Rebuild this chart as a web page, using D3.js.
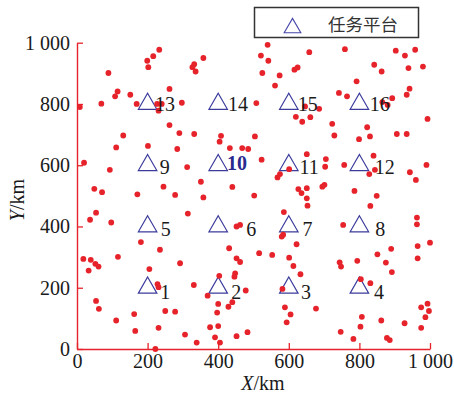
<!DOCTYPE html>
<html>
<head>
<meta charset="utf-8">
<script src="https://cdn.jsdelivr.net/npm/d3@7"></script>
<style>
  html, body { margin: 0; padding: 0; background: #fff; }
  svg { display: block; }
</style>
</head>
<body>
<div id="chart"></div>
<script>
// Task points (km)
const taskX = [
  8, 233, 216, 199, 202, 89, 115, 108, 151, 69, 169, 262, 227, 240, 231, 297, 262, 290, 131,
  332, 327, 336, 358, 540, 521, 542, 525, 574, 561, 616, 625, 658, 508, 646, 620, 638, 661, 332, 408, 504,
  759, 903, 929, 958, 842, 863, 939, 980, 792, 742, 765, 942, 934, 893, 865, 880, 686, 723, 822, 993, 729, 799, 830, 906, 934,
  111, 201, 284, 20, 93, 312, 49, 71, 171, 245, 278, 54, 37, 97, 314, 181,
  404, 433, 468, 485, 523, 651, 601, 575, 568, 351, 440, 358, 502, 627, 636, 651, 651, 653, 452, 462, 586, 580, 584, 622,
  705, 703, 757, 840, 844, 828, 943, 960, 990, 701, 695, 786, 849, 831, 754, 963, 963, 965, 1000,
  235, 18, 39, 52, 61, 33, 116, 205, 292, 228, 231, 331, 54, 62, 162, 250, 278, 111, 231, 165, 306, 222,
  431, 452, 462, 516, 553, 601, 613, 633, 448, 446, 403, 370, 478, 582, 400, 440, 429, 397, 589, 605, 594, 377, 400, 483, 452, 391, 405, 339,
  851, 890, 965, 744, 748, 794, 875, 892, 804, 831, 677, 975, 993, 997, 987, 807, 862, 928, 975, 803, 747, 783, 878, 886
];
const taskY = [
  790, 977, 956, 941, 920, 901, 841, 825, 830, 801, 800, 849, 800, 800, 778, 804, 731, 705, 697,
  930, 920, 906, 950, 993, 958, 941, 901, 893, 860, 912, 919, 969, 803, 792, 758, 742, 757, 702, 696, 694,
  979, 974, 958, 977, 928, 906, 917, 922, 874, 836, 825, 850, 830, 819, 806, 797, 784, 735, 724, 751, 697, 685, 694, 702, 702,
  658, 663, 653, 608, 585, 594, 523, 512, 505, 530, 503, 445, 422, 413, 442, 349,
  677, 656, 656, 653, 618, 636, 587, 571, 560, 546, 529, 495, 501, 522, 509, 525, 492, 468, 400, 405, 447, 367, 373, 342,
  620, 595, 601, 631, 585, 571, 577, 552, 601, 536, 530, 516, 500, 467, 405, 429, 407, 336, 347,
  324, 294, 291, 278, 269, 256, 301, 261, 280, 212, 202, 209, 157, 131, 114, 124, 122, 93, 69, 59, 47, 0,
  329, 296, 284, 313, 307, 298, 271, 244, 247, 236, 239, 174, 191, 196, 147, 153, 138, 119, 136, 113, 87, 71, 75, 55, 42, 38, 21, 21,
  309, 327, 296, 283, 269, 288, 282, 251, 228, 215, 132, 136, 148, 124, 104, 105, 93, 84, 69, 73, 56, 33, 36, 29
];

// Task platforms (km)
const platformX = [200, 400, 600, 800, 200, 400, 600, 800, 200, 400, 600, 800, 200, 400, 600, 800];
const platformY = [200, 200, 200, 200, 400, 400, 400, 400, 600, 600, 600, 600, 800, 800, 800, 800];
const platformIds = [1, 2, 3, 4, 5, 6, 7, 8, 9, 10, 11, 12, 13, 14, 15, 16];
const highlightedId = 10;

const xTicks = [0, 200, 400, 600, 800, 1000];
const yTicks = [0, 200, 400, 600, 800, 1000];
const tickText = v => v >= 1000 ? "1 000" : String(v);
const legendText = "任务平台";

// ---- layout ----
const W = 454, H = 395;
const red = "#e6232b";
const blue = "#3b3b9c";
const serif = "'Liberation Serif', 'Times New Roman', serif";

const x = d3.scaleLinear().domain([0, 1000]).range([77, 430]);
const y = d3.scaleLinear().domain([0, 1000]).range([349, 42.7]);

// horizontal / vertical placement of each platform number relative to its marker
const labelDx = [12.7, 13, 12.2, 14.5, 13.2, 28, 13.8, 15.8, 12.2, 8.8, 10.7, 15.3, 7.3, 9.8, 9, 10.3];
const labelDy = [11.5, 11.5, 11.5, 11.5, 10, 10, 10, 10, 9, 4.6, 9, 9, 7.5, 7.5, 7.5, 7.5];

const svg = d3.select("#chart").append("svg")
  .attr("width", W).attr("height", H)
  .attr("viewBox", `0 0 ${W} ${H}`);

// axes
const xAxis = d3.axisBottom(x).tickValues(xTicks).tickFormat(tickText)
  .tickSizeInner(-6).tickSizeOuter(0).tickPadding(5);
const yAxis = d3.axisLeft(y).tickValues(yTicks).tickFormat(tickText)
  .tickSizeInner(-6).tickSizeOuter(0).tickPadding(7);

const gx = svg.append("g").attr("transform", `translate(0,${y(0)})`).call(xAxis);
const gy = svg.append("g").attr("transform", `translate(${x(0)},0)`).call(yAxis);

[gx, gy].forEach(g => {
  g.select(".domain").attr("stroke", red).attr("stroke-width", 1.4);
  g.selectAll(".tick line").attr("stroke", red).attr("stroke-width", 1.3);
  g.selectAll(".tick text")
    .attr("fill", "#1a1a1a")
    .style("font-family", serif)
    .style("font-size", "20px");
});

// axis titles
const xTitle = svg.append("text")
  .attr("x", 263).attr("y", 390)
  .attr("text-anchor", "middle")
  .attr("fill", "#1a1a1a")
  .style("font-family", serif).style("font-size", "20px");
xTitle.append("tspan").style("font-style", "italic").text("X");
xTitle.append("tspan").text("/km");

const yTitle = svg.append("text")
  .attr("transform", "translate(24,200) rotate(-90)")
  .attr("text-anchor", "middle")
  .attr("fill", "#1a1a1a")
  .style("font-family", serif).style("font-size", "20px");
yTitle.append("tspan").style("font-style", "italic").text("Y");
yTitle.append("tspan").text("/km");

// platforms
const platforms = platformIds.map((id, i) => ({ id, px: platformX[i], py: platformY[i], i }));
const tri = d3.symbol().type(d3.symbolTriangle).size(148);

svg.append("g").selectAll("path")
  .data(platforms)
  .join("path")
  .attr("d", tri)
  .attr("transform", d => `translate(${x(d.px)},${y(d.py)})`)
  .attr("fill", "none")
  .attr("stroke", blue)
  .attr("stroke-width", 1.2);

// tasks
const tasks = taskX.map((v, i) => ({ tx: v, ty: taskY[i] }));
svg.append("g").selectAll("circle")
  .data(tasks)
  .join("circle")
  .attr("cx", d => x(d.tx))
  .attr("cy", d => y(d.ty))
  .attr("r", 2.9)
  .attr("fill", red);

// platform numbers
svg.append("g").selectAll("text")
  .data(platforms)
  .join("text")
  .attr("x", d => x(d.px) + labelDx[d.i])
  .attr("y", d => y(d.py) + labelDy[d.i])
  .attr("fill", d => d.id === highlightedId ? "#2a2a8e" : "#1a1a1a")
  .style("font-weight", d => d.id === highlightedId ? "bold" : "normal")
  .style("font-family", serif)
  .style("font-size", "20px")
  .text(d => d.id);

// legend
const lg = svg.append("g");
lg.append("rect")
  .attr("x", 254.5).attr("y", 7.5).attr("width", 164).attr("height", 30)
  .attr("fill", "#fff").attr("stroke", "#333").attr("stroke-width", 1.5);
lg.append("path")
  .attr("d", d3.symbol().type(d3.symbolTriangle).size(120))
  .attr("transform", "translate(292.5,28)")
  .attr("fill", "none").attr("stroke", "#4646aa").attr("stroke-width", 1.1);
lg.append("text")
  .attr("x", 328).attr("y", 31)
  .attr("fill", "#333")
  .style("font-family", "'Noto Sans CJK SC', sans-serif")
  .style("font-size", "17.5px")
  .text(legendText);
</script>
</body>
</html>
